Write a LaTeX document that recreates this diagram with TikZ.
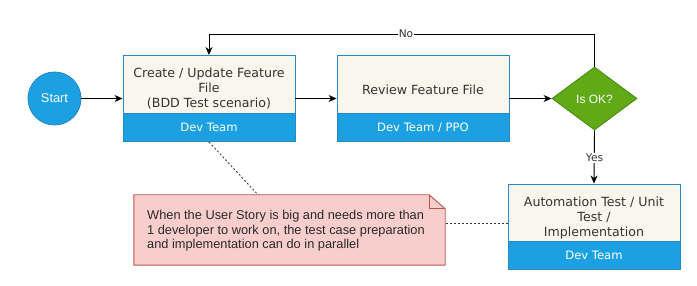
\documentclass[tikz,border=0pt]{standalone}
\usepackage{fontspec}
\setmainfont{DejaVu Sans}
\newfontfamily\notefont{Liberation Sans}
\usetikzlibrary{shapes.geometric,arrows.meta,calc}

\definecolor{laneblue}{HTML}{1BA1E2}
\definecolor{lanestroke}{HTML}{2E85C4}
\definecolor{cardfill}{HTML}{F9F7ED}
\definecolor{inktext}{HTML}{333333}
\definecolor{okgreen}{HTML}{60A917}
\definecolor{okstroke}{HTML}{4D8C12}
\definecolor{notefill}{HTML}{F8CECC}
\definecolor{notestroke}{HTML}{B85450}

\tikzset{
  card/.style={draw=lanestroke, line width=0.9pt, fill=cardfill,
    minimum width=172pt, minimum height=86pt, inner sep=0pt},
  band/.style={draw=lanestroke, line width=0.9pt, fill=laneblue,
    minimum width=172pt, minimum height=28pt, inner sep=0pt,
    text=white, font=\fontsize{11.6}{14}\selectfont},
  cardtext/.style={text=inktext, align=center,
    font=\fontsize{12.6}{15}\selectfont},
  flow/.style={draw=black, line width=0.9pt, -{Stealth[length=8pt,width=7pt,inset=2.5pt]}},
  edgelabel/.style={fill=white, text=inktext, inner sep=1pt,
    font=\fontsize{10.6}{12}\selectfont},
  hint/.style={draw=inktext, line width=0.8pt, dash pattern=on 2pt off 2pt},
  startnode/.style={circle, draw=lanestroke, line width=0.9pt, fill=laneblue,
    minimum size=53pt, inner sep=0pt, text=white,
    font=\notefont\fontsize{12.8}{14}\selectfont},
  decision/.style={diamond, draw=okstroke, line width=0.9pt, fill=okgreen,
    minimum width=85pt, minimum height=63pt, inner sep=0pt, aspect=1.35,
    text=white, font=\notefont\fontsize{12}{14}\selectfont},
}

\begin{document}
\begin{tikzpicture}[x=1pt, y=-1pt]
  \useasboundingbox (0,0) rectangle (697,286);

  % start
  \node[startnode] (start) at (54.5,98.5) {Start};

  % create / update feature file
  \node[card] (create) at (209,98.5) {};
  \node[band] (createteam) at (209,127.5) {Dev Team};
  \node[cardtext] (createtxt) at (209,89) {Create / Update Feature\\File\\(BDD Test scenario)};

  % review feature file
  \node[card] (review) at (423,98.5) {};
  \node[band] (reviewteam) at (423,127.5) {Dev Team / PPO};
  \node[cardtext] (reviewtxt) at (423,90) {Review Feature File};

  % decision
  \node[decision] (ok) at (594.5,98.5) {};
  \node[text=white, font=\notefont\fontsize{12}{14}\selectfont] (oktxt) at (594.5,99) {Is OK?};

  % automation test
  \node[card, minimum height=85pt] (auto) at (594,226.5) {};
  \node[band] (autoteam) at (594,255) {Dev Team};
  \node[cardtext] (autotxt) at (594,218) {Automation Test / Unit\\Test /\\Implementation};

  % note with folded corner
  \node[minimum width=311pt, minimum height=70pt, inner sep=0pt] (note) at (289.5,230) {};
  \draw[notestroke, fill=notefill, line width=0.9pt]
    (note.south west) -- (note.north west) -- ([xshift=-16pt]note.north east)
    -- ([yshift=-14pt]note.north east) -- (note.south east) -- cycle;
  \draw[notestroke, line width=0.9pt]
    ([xshift=-16pt]note.north east) -- ([xshift=-16pt,yshift=-14pt]note.north east)
    -- ([yshift=-14pt]note.north east);
  \node[anchor=west, align=left, text=inktext!80!black, inner sep=0pt,
        font=\notefont\fontsize{12.8}{14.6}\selectfont] (notetxt) at (147,231)
    {When the User Story is big and needs more than\\
     1 developer to work on, the test case preparation\\
     and implementation can do in parallel};

  % flow
  \draw[flow] (start) -- (create);
  \draw[flow] (create.east) -- (review.west);
  \draw[flow] (review.east) -- (ok.west);
  \coordinate (loop) at (594.5,34);
  \draw[flow] (ok.north) -- (loop) -| (create.north);
  \node[edgelabel] (no) at (406,34) {No};
  \draw[flow] (ok.south) -- (auto.north);
  \node[edgelabel] (yes) at (594.5,158) {Yes};

  % annotations
  \draw[hint] (create.south) -- ([xshift=-31.5pt]note.north);
  \draw[hint] ([yshift=3pt]auto.west) -- ([yshift=3pt]auto.west -| note.east);
\end{tikzpicture}
\end{document}
